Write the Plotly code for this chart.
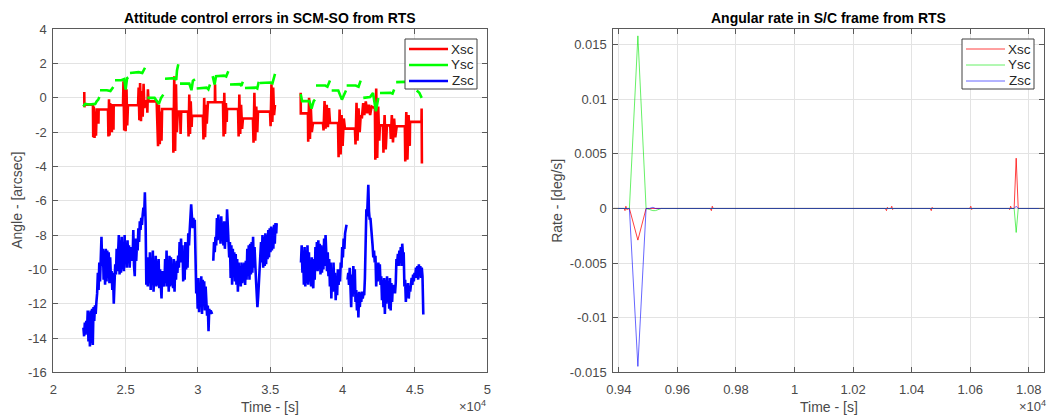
import plotly.graph_objects as go

# ---------------- Left panel data: attitude control errors [arcsec] ----------------
x_t = [22140, 22150, 22165, 22740, 22760, 22800, 22850, 22900, 22950, 23000, 23110, 23120, 23135,
       23780, 23810, 23850, 23890, 23930, 23970, 24010, 24050, 24060, 24150, 24160, 24175,
       24820, 24850, 24900, 24950, 25000, 25060, 25110, 25160, 25860, 25900, 25950, 26000, 26060,
       26120, 26180, 26240, 26300, 26340, 26480, 26500, 26540, 26580, 26690, 27145, 27240, 27300,
       27360, 27420, 27480, 27520, 28270, 28300, 28360, 28420, 28480, 28540, 28600, 28760, 28800,
       28840, 29310, 29350, 29400, 29450, 29500, 29560, 29590, 30340, 30380, 30430, 30490, 30550,
       30610, 30690, 31170, 31180, 31200, 31730, 31770, 31820, 31870, 31930, 31990, 32010, 32770,
       32810, 32860, 32920, 32980, 33050, 33110, 33800, 33840, 33900, 33960, 34030, 34100, 34150,
       34980, 35020, 35080, 35140, 35200, 35260, 35324, None,
       37100, 37110, 37600, 37620, 37680, 37740, 37800, 37870, 37950, 38640, 38680, 38750, 38820,
       38900, 38980, 39060, 39125, 39680, 39720, 39790, 39860, 39930, 40000, 40080, 40160, 40850,
       40890, 40960, 41030, 41100, 41180, 41250, 41330, 41420, 41500, 41600, 41700, 41800, 41900,
       42000, 42230, 42260, 42320, 42390, 42460, 42530, 42580, 42790, 42820, 42900, 42980, 43060,
       43290, 43330, 43400, 43480, 43560, 43640, 43740, 44300, 44330, 44400, 44480, 44560, 44640,
       44660, 45450, 45460, 45480]
x_v = [0.35, -0.55, -0.39, -0.39, -2.30, -0.50, -2.33, -0.80, -2.20, -0.68, -0.68, -1.50, -0.68,
       -0.68, -2.25, -0.08, -2.20, -0.30, -1.80, -0.60, -2.00, -0.43, -0.43, -1.85, -0.43,
       -0.43, 0.97, -1.90, 0.85, -1.94, 0.50, -1.60, -0.43, -0.43, 0.60, -1.30, 0.87, -1.36,
       0.40, -1.10, 0.82, -0.60, -0.20, -0.20, -0.87, 0.50, -0.20, -0.20, -0.20, -2.82, -0.40,
       -2.70, -0.80, -2.50, -0.65, -0.65, -3.20, 1.26, -3.10, 0.80, -2.00, -0.80, -0.80, -2.10,
       -0.80, -0.80, -2.25, 0.20, -2.10, -0.20, -1.70, -1.05, -1.05, -2.43, 0.00, -2.30, -0.40,
       -1.50, -0.25, -0.25, 0.80, -0.25, -0.25, -2.25, 0.30, -2.10, -0.30, -1.40, -0.65, -0.65,
       -2.25, 0.20, -2.10, -0.40, -1.80, -1.20, -1.20, -2.62, 0.30, -2.50, -0.50, -2.00, -0.80,
       -0.80, -1.65, 0.80, -1.40, 0.60, -1.00, -0.40, None,
       0.30, -0.90, -0.90, -2.56, 0.00, -2.40, -0.50, -2.00, -1.46, -1.46, -1.90, -0.19, -1.80,
       -0.40, -1.70, -0.60, -1.46, -1.46, -3.46, -0.68, -3.30, -1.00, -2.80, -1.20, -1.79, -1.79,
       -2.72, -0.29, -2.50, -0.60, -2.00, -1.00, -1.20, -0.30, -1.00, -0.20, -0.90, -0.40, -1.00,
       -0.50, -0.60, -3.60, 0.55, -3.50, -0.50, -2.50, -1.60, -1.60, -3.20, -1.00, -3.00, -1.60,
       -1.60, -2.40, -1.00, -2.60, -1.20, -2.30, -1.65, -1.65, -3.70, -0.82, -3.60, -1.00, -2.80,
       -1.40, -1.40, -0.62, -3.83]

y_t = [22074, 22200, 22500, 22900, 23000, 23110, 23180, None,
       23228, 23700, 23950, 24050, 24147, None,
       24265, 24700, 24900, 25000, 25100, 25184, None,
       25301, 25900, 26150, 26250, 26338, None,
       26497, 27000, 27300, 27450, 27603, None,
       27721, 28400, 28500, 28550, 28640, None,
       28757, 29400, 29550, 29650, 29794, None,
       29912, 30600, 30720, 30831, None,
       31018, 31150, 31250, 31800, 31950, 32096, None,
       32214, 32900, 33000, 33100, None,
       33250, 34000, 34100, 34200, None,
       34287, 35000, 35150, 35324, None,
       37100, 37200, 37700, 37850, 38000, 38089, None,
       38158, 38800, 38950, 39125, None,
       39243, 39700, 39950, 40150, 40231, None,
       40278, 40900, 41100, 41246, None,
       41427, 41900, 42100, 42300, 42465, None,
       42582, 43300, 43450, 43560, None,
       43700, 44500, 45000, None,
       45120, 45300, 45465]
y_v = [-0.50, -0.35, -0.38, -0.35, -0.20, -0.10, 0.05, None,
       0.45, 0.45, 0.40, 0.50, 0.64, None,
       1.03, 1.03, 1.10, 0.49, 1.15, 1.20, None,
       1.45, 1.50, 1.45, 1.65, 1.76, None,
       0.00, 0.00, -0.35, 0.00, 0.19, None,
       1.12, 1.15, 1.05, 1.60, 1.96, None,
       0.83, 0.83, 0.45, 1.00, 1.08, None,
       0.55, 0.60, 0.50, 0.78, None,
       1.27, 0.78, 1.27, 1.30, 1.25, 1.56, None,
       0.78, 0.80, 0.70, 0.94, None,
       0.58, 0.60, 0.55, 0.94, None,
       0.87, 0.90, 0.85, 1.40, None,
       0.23, -0.19, -0.19, -0.62, -0.19, -0.10, None,
       0.72, 0.72, 0.65, 1.01, None,
       0.43, 0.43, -0.10, 0.30, 0.43, None,
       0.72, 0.72, 0.65, 1.01, None,
       0.00, 0.05, 0.29, -0.78, 0.00, None,
       0.29, 0.30, 0.25, 0.49, None,
       0.92, 0.92, 0.95, None,
       0.43, 0.30, 0.00]

z_t = [22080, 22130, 22180, 22230, 22280, 22330, 22380, 22430, 22480, 22530,
       22580, 22630, 22680, 22730, 22780, 22830, 22880, 22930, 22980, 23030,
       23080, 23130, 23180, 23230, 23280, 23330, 23380, 23430, 23480, 23530,
       23580, 23630, 23680, 23730, 23780, 23830, 23880, 23930, 23980, 24030,
       24080, 24130, 24180, 24230, 24280, 24330, 24380, 24430, 24480, 24530,
       24580, 24630, 24680, 24730, 24780, 24830, 24880, 24930, 24980, 25030,
       25080, 25130, 25180, 25230, 25280, 25330, 25380, 25430, 25480, 25530,
       25580, 25630, 25680, 25730, 25780, 25830, 25880, 25930, 25980, 26030,
       26080, 26130, 26180, 26230, 26280, 26330, 26380, 26430, 26480, 26530,
       26580, 26630, 26680, 26730, 26780, 26830, 26880, 26930, 26980, 27030,
       27080, 27130, 27180, 27230, 27280, 27330, 27380, 27430, 27480, 27530,
       27580, 27630, 27680, 27730, 27780, 27830, 27880, 27930, 27980, 28030,
       28080, 28130, 28180, 28230, 28280, 28330, 28380, 28430, 28480, 28530,
       28580, 28630, 28680, 28730, 28780, 28830, 28880, 28930, 28980, 29030,
       29080, 29130, 29180, 29230, 29280, 29330, 29380, 29430, 29480, 29530,
       29580, 29630, 29680, 29730, 29780, 29830, 29880, 29930, 29980, 30030,
       30080, 30130, 30180, 30230, 30280, 30330, 30380, 30430, 30480, 30530,
       30580, 30630, 30680, 30730, 30780, 30830, 30880, 30930, 30980, None,
       31060, 31110, 31160, 31210, 31260, 31310, 31360, 31410, 31460, 31510,
       31560, 31610, 31660, 31710, 31760, 31810, 31860, 31910, 31960, 32010,
       32060, 32110, 32160, 32210, 32260, 32310, 32360, 32410, 32460, 32510,
       32560, 32610, 32660, 32710, 32760, 32810, 32860, 32910, 32960, 33010,
       33060, 33110, 33160, 33210, 33260, 33310, 33360, 33410, 33460, 33510,
       33560, 33610, 33660, 33710, 33760, 33810, 33860, 33910, 33960, 34010,
       34060, 34110, 34160, 34210, 34260, 34310, 34360, 34410, 34460, 34510,
       34560, 34610, 34660, 34710, 34760, 34810, 34860, 34910, 34960, 35010,
       35060, 35110, 35160, 35210, 35260, 35310, 35360, 35410, 35440, None,
       37120, 37170, 37220, 37270, 37320, 37370, 37420, 37470, 37520, 37570,
       37620, 37670, 37720, 37770, 37820, 37870, 37920, 37970, 38020, 38070,
       38120, 38170, 38220, 38270, 38320, 38370, 38420, 38470, 38520, 38570,
       38620, 38670, 38720, 38770, 38820, 38870, 38920, 38970, 39020, 39070,
       39120, 39170, 39220, 39270, 39320, 39370, 39420, 39470, 39520, 39570,
       39620, 39670, 39720, 39770, 39820, 39870, 39920, 39970, 40020, 40070,
       40120, 40170, 40220, 40270, None, 40340, 40390, 40440, 40490, 40540,
       40590, 40640, 40690, 40740, 40790, 40840, 40890, 40940, 40990, 41040,
       41090, 41140, 41190, 41240, 41290, 41340, 41390, 41440, 41490, 41540,
       41590, 41640, 41690, 41740, 41775, 41820, 41870, 41920, 41970, 42020,
       42070, 42120, 42170, 42220, 42270, 42320, 42370, 42420, 42470, 42520,
       42570, 42620, 42670, 42720, 42770, 42820, 42870, 42920, 42970, 43020,
       43070, 43120, 43170, 43220, 43270, 43320, 43370, 43420, 43470, 43520,
       43570, 43620, 43670, 43720, 43770, 43820, 43870, 43920, 43970, 44020,
       44070, 44120, 44170, 44220, 44270, 44320, 44370, 44420, 44470, 44520,
       44570, 44620, 44670, 44720, 44770, 44820, 44870, 44920, 44970, 45020,
       45070, 45120, 45170, 45220, 45270, 45320, 45370, 45420, 45470, 45520,
       45577]
z_v = [-13.4, -13.9, -13.1, -13.8, -13.0, -13.6, -12.4, -14.2, -12.5, -14.5,
       -12.4, -14.3, -12.3, -14.4, -12.2, -13.0, -12.1, -12.6, -11.9, -11.4,
       -10.2, -11.2, -9.6, -10.7, -9.4, -8.1, -9.8, -8.8, -10.6, -8.9,
       -10.9, -8.8, -10.7, -8.9, -10.5, -9.0, -10.8, -9.3, -10.4, -10.1,
       -11.2, -10.2, -12.0, -10.5, -9.7, -10.3, -8.8, -10.1, -9.0, -8.0,
       -10.3, -8.3, -10.2, -8.1, -10.0, -8.4, -10.1, -8.0, -9.7, -8.5,
       -9.9, -8.3, -9.4, -8.6, -9.9, -8.7, -9.3, -8.9, -9.5, -7.7,
       -9.8, -10.4, -8.2, -9.5, -8.6, -8.9, -7.6, -8.4, -7.2, -7.7,
       -7.0, -7.4, -6.8, -6.4, -6.9, -5.5, -7.2, -10.9, -10.1, -11.0,
       -9.3, -10.8, -9.0, -11.2, -9.6, -10.9, -8.9, -11.3, -9.9, -10.8,
       -9.2, -11.0, -9.5, -10.9, -9.4, -11.1, -10.0, -11.2, -11.7, -10.1,
       -10.9, -10.3, -11.0, -9.4, -10.8, -8.9, -11.0, -9.8, -11.3, -9.2,
       -11.0, -9.3, -10.9, -9.9, -11.1, -9.4, -11.3, -9.6, -10.6, -9.5,
       -10.2, -9.2, -9.9, -8.4, -9.6, -8.2, -9.5, -8.6, -10.7, -9.0,
       -10.6, -8.4, -10.0, -8.5, -9.9, -7.9, -8.6, -7.7, -7.2, -6.2,
       -6.9, -7.6, -7.0, -7.3, -7.1, -10.5, -11.4, -10.6, -12.3, -10.5,
       -12.5, -10.8, -12.0, -10.4, -12.6, -10.6, -12.1, -10.7, -12.4, -11.0,
       -12.3, -12.7, -12.1, -13.6, -12.3, -12.6, -12.4, -12.5, -12.6, None,
       -9.5, -8.4, -9.0, -8.1, -8.6, -7.0, -8.3, -6.8, -8.1, -7.4,
       -8.5, -6.9, -8.3, -7.5, -8.6, -7.2, -8.8, -7.8, -8.4, -6.5,
       -7.4, -8.9, -9.3, -8.4, -10.5, -8.6, -10.9, -8.8, -10.4, -9.0,
       -10.7, -9.1, -10.9, -9.4, -11.3, -9.6, -10.8, -9.8, -11.0, -9.6,
       -10.8, -9.7, -10.7, -9.6, -10.9, -9.5, -10.6, -8.8, -10.4, -8.6,
       -10.6, -8.5, -10.3, -8.4, -10.2, -8.1, -9.9, -8.7, -10.1, -10.6,
       -11.4, -12.2, -11.6, -10.8, -10.5, -9.5, -8.4, -9.6, -8.0, -9.9,
       -8.1, -9.8, -7.9, -9.7, -8.0, -9.4, -7.7, -9.3, -7.6, -9.0,
       -7.5, -8.9, -7.6, -8.8, -7.4, -8.5, -7.3, -7.9, -7.3, None,
       -9.6, -8.6, -10.2, -8.9, -10.9, -8.7, -11.0, -8.9, -10.8, -8.6,
       -10.9, -9.0, -10.7, -9.5, -11.0, -9.3, -10.8, -11.1, -9.4, -10.6,
       -8.7, -9.9, -8.4, -10.1, -8.3, -10.0, -8.5, -10.3, -8.6, -10.2,
       -8.7, -10.0, -8.2, -9.8, -8.0, -9.5, -10.1, -9.0, -10.4, -9.4,
       -11.0, -9.6, -11.7, -10.0, -11.3, -9.6, -11.1, -10.2, -11.8, -10.4,
       -11.5, -10.0, -10.9, -10.2, -10.7, -9.6, -9.9, -8.7, -9.3, -8.2,
       -8.8, -7.9, -7.6, -7.4, None, -10.6, -10.2, -10.9, -9.9, -11.0,
       -12.2, -10.3, -11.6, -9.8, -11.2, -10.0, -11.9, -11.2, -12.4, -11.4,
       -12.8, -11.3, -12.2, -11.4, -11.9, -11.3, -11.7, -11.4, -11.5, -10.5,
       -8.5, -6.5, -6.9, -5.8, -5.06, -6.6, -7.1, -7.0, -7.8, -8.1,
       -8.6, -9.3, -8.9, -9.6, -9.2, -11.0, -9.8, -10.7, -9.6, -10.2,
       -9.7, -10.9, -10.4, -11.8, -10.6, -12.2, -10.5, -12.6, -10.6, -12.0,
       -10.4, -11.9, -10.7, -12.3, -10.5, -12.4, -10.8, -11.9, -10.9, -11.3,
       -10.9, -11.4, -10.8, -9.4, -9.6, -9.1, -9.8, -8.9, -9.5, -8.7,
       -9.8, -8.5, -9.2, -9.0, -11.0, -10.6, -11.9, -10.9, -11.5, -10.8,
       -11.7, -11.0, -11.3, -10.9, -10.5, -10.9, -10.3, -10.7, -10.2, -10.4,
       -9.9, -10.5, -9.8, -10.6, -9.7, -10.4, -9.8, -10.5, -9.9, -10.4,
       -12.63]

# ---------------- Right panel data: angular rate [deg/s] ----------------
r_t = [9381, 9418, 9421, 9424, 9427, 9436, 9465, 9493, 9505, 9516, 9525, 9535, 9545,
       9712, 9716, 9719, 9722, 10310, 10314, 10317, 10320, 10329, 10332, 10335, 10338,
       10463, 10467, 10470, 10473, 10598, 10602, 10605, 10608, 10731, 10735, 10738, 10741,
       10750, 10757, 10764, 10852]
r_x = [0, 0, -0.0002, 0.0002, -0.0001, 0, -0.0029, 0, 0, 0, 0, 0, 0,
       0, -0.0002, 0.0002, 0, 0, -0.0002, 0.0001, 0, 0, 0.0002, -0.0001, 0,
       0, -0.0002, 0.0001, 0, 0, 0.0002, -0.0001, 0, 0, -0.0001, 0.0002, 0,
       0, 0.0046, 0, 0]
r_y = [0, 0, 0, 0, 0, 0, 0.0158, 0, -0.0001, -0.0002, -0.0002, -0.0001, 0,
       0, 0, 0, 0, 0, 0, 0, 0, 0, 0, 0, 0,
       0, 0, 0, 0, 0, 0, 0, 0, 0, 0, 0, 0,
       0, -0.0022, 0, 0]
r_z = [0, 0, 0, 0, 0, 0, -0.01446, 0, 0, 0.0001, 0, 0, 0,
       0, 0, 0, 0, 0, 0, 0, 0, 0, 0, 0, 0,
       0, 0, 0, 0, 0, 0, 0, 0, 0, 0, 0, 0,
       0, 0.0002, 0, 0]

series_names = ["Xsc", "Ysc", "Zsc"]
left_colors = ["#ff0000", "#00ff00", "#0000ff"]
right_colors = ["rgba(255,0,0,0.75)", "rgba(0,230,0,0.6)", "rgba(0,0,255,0.6)"]

left_xticks = [20000, 25000, 30000, 35000, 40000, 45000, 50000]
left_xtext = ["2", "2.5", "3", "3.5", "4", "4.5", "5"]
left_yticks = [-16, -14, -12, -10, -8, -6, -4, -2, 0, 2, 4]
right_xticks = [9400, 9600, 9800, 10000, 10200, 10400, 10600, 10800]
right_xtext = ["0.94", "0.96", "0.98", "1", "1.02", "1.04", "1.06", "1.08"]
right_yticks = [-0.015, -0.01, -0.005, 0, 0.005, 0.01, 0.015]
right_ytext = ["-0.015", "-0.01", "-0.005", "0", "0.005", "0.01", "0.015"]

W, H = 1049, 418
FONT = "Liberation Sans, Arial, Helvetica, sans-serif"
TICKC = "#4a4a4a"
LW_LEFT = 2.6
LW_RIGHT = 1

fig = go.Figure()
for t, v, name, col in zip([x_t, y_t, z_t], [x_v, y_v, z_v], series_names, left_colors):
    fig.add_trace(go.Scatter(x=t, y=v, mode="lines", name=name, line=dict(color=col, width=LW_LEFT),
                             xaxis="x", yaxis="y", connectgaps=False, showlegend=False))
for v, name, col in zip([r_x, r_y, r_z], series_names, right_colors):
    fig.add_trace(go.Scatter(x=r_t, y=v, mode="lines", name=name, line=dict(color=col, width=LW_RIGHT),
                             xaxis="x2", yaxis="y2", showlegend=False))

def px_x(p):
    return p / W

def px_y(p):
    return 1 - p / H

axis_common = dict(
    showline=True, linecolor="#5a5a5a", linewidth=1, mirror="ticks",
    ticks="inside", ticklen=5, tickcolor="#5a5a5a", tickwidth=1,
    showgrid=True, gridcolor="#e3e3e3", gridwidth=1, zeroline=False,
    automargin=False,
    tickfont=dict(family=FONT, size=13, color=TICKC),
)

fig.update_layout(
    width=W, height=H, autosize=False,
    margin=dict(l=0, r=0, t=0, b=0, pad=0, autoexpand=False),
    paper_bgcolor="white", plot_bgcolor="white",
    showlegend=False,
    xaxis=dict(domain=[px_x(53.3), px_x(487.3)], range=[20000, 50000], tickmode="array",
               tickvals=left_xticks, ticktext=left_xtext, anchor="y", ticklabelstandoff=5, **axis_common),
    yaxis=dict(domain=[px_y(372.3), px_y(29.3)], range=[-16, 4], tickmode="array",
               tickvals=left_yticks, ticktext=[str(v) for v in left_yticks],
               anchor="x", ticklabelstandoff=3, **axis_common),
    xaxis2=dict(domain=[px_x(613.3), px_x(1044)], range=[9381, 10852], tickmode="array",
                tickvals=right_xticks, ticktext=right_xtext, anchor="y2", ticklabelstandoff=5, **axis_common),
    yaxis2=dict(domain=[px_y(372.3), px_y(29.3)], range=[-0.015, 0.0164], tickmode="array",
                tickvals=right_yticks, ticktext=right_ytext, anchor="x2", ticklabelstandoff=3, **axis_common),
)

ann = []
shapes = []

# Legend boxes (MATLAB style: white box, line sample, right-aligned label)
def add_legend(right_px, colors, width):
    left_px = right_px - 72
    top_px, bot_px = 39, 89
    shapes.append(dict(type="rect", xref="paper", yref="paper",
                       x0=px_x(left_px), x1=px_x(right_px), y0=px_y(bot_px), y1=px_y(top_px),
                       fillcolor="white", line=dict(color="#404040", width=1), layer="above"))
    for i, (name, col) in enumerate(zip(series_names, colors)):
        yrow = 49 + 16 * i
        shapes.append(dict(type="line", xref="paper", yref="paper",
                           x0=px_x(left_px + 4), x1=px_x(left_px + 43), y0=px_y(yrow), y1=px_y(yrow),
                           line=dict(color=col, width=width), layer="above"))
        ann.append(dict(text=name, x=px_x(right_px - 1), y=px_y(yrow), xref="paper", yref="paper",
                        showarrow=False, xanchor="right", yanchor="middle",
                        font=dict(family=FONT, size=13.5, color="#262626")))

add_legend(477, left_colors, LW_LEFT)
add_legend(1034, right_colors, LW_RIGHT)

ann.append(dict(text="<b>Attitude control errors in SCM-SO from RTS</b>", x=px_x(270.3), y=px_y(18),
                xref="paper", yref="paper", showarrow=False, xanchor="center", yanchor="middle",
                font=dict(family=FONT, size=14, color="#000000")))
ann.append(dict(text="<b>Angular rate in S/C frame from RTS</b>", x=px_x(828.6), y=px_y(18),
                xref="paper", yref="paper", showarrow=False, xanchor="center", yanchor="middle",
                font=dict(family=FONT, size=14, color="#000000")))
ann.append(dict(text="Angle - [arcsec]", x=px_x(17), y=px_y(200.8), textangle=-90,
                xref="paper", yref="paper", showarrow=False, xanchor="center", yanchor="middle",
                font=dict(family=FONT, size=14, color=TICKC)))
ann.append(dict(text="Rate - [deg/s]", x=px_x(557), y=px_y(200.8), textangle=-90,
                xref="paper", yref="paper", showarrow=False, xanchor="center", yanchor="middle",
                font=dict(family=FONT, size=14, color=TICKC)))
ann.append(dict(text="Time - [s]", x=px_x(270.3), y=px_y(407), xref="paper", yref="paper",
                showarrow=False, xanchor="center", yanchor="middle",
                font=dict(family=FONT, size=14, color=TICKC)))
ann.append(dict(text="Time - [s]", x=px_x(828.6), y=px_y(407), xref="paper", yref="paper",
                showarrow=False, xanchor="center", yanchor="middle",
                font=dict(family=FONT, size=14, color=TICKC)))
ann.append(dict(text="\u00d710<sup>4</sup>", x=px_x(488), y=px_y(406), xref="paper", yref="paper",
                showarrow=False, xanchor="right", yanchor="middle",
                font=dict(family=FONT, size=13, color=TICKC)))
ann.append(dict(text="\u00d710<sup>4</sup>", x=px_x(1048), y=px_y(406), xref="paper", yref="paper",
                showarrow=False, xanchor="right", yanchor="middle",
                font=dict(family=FONT, size=13, color=TICKC)))
fig.update_layout(annotations=ann, shapes=shapes)

fig.write_html("out.html")
